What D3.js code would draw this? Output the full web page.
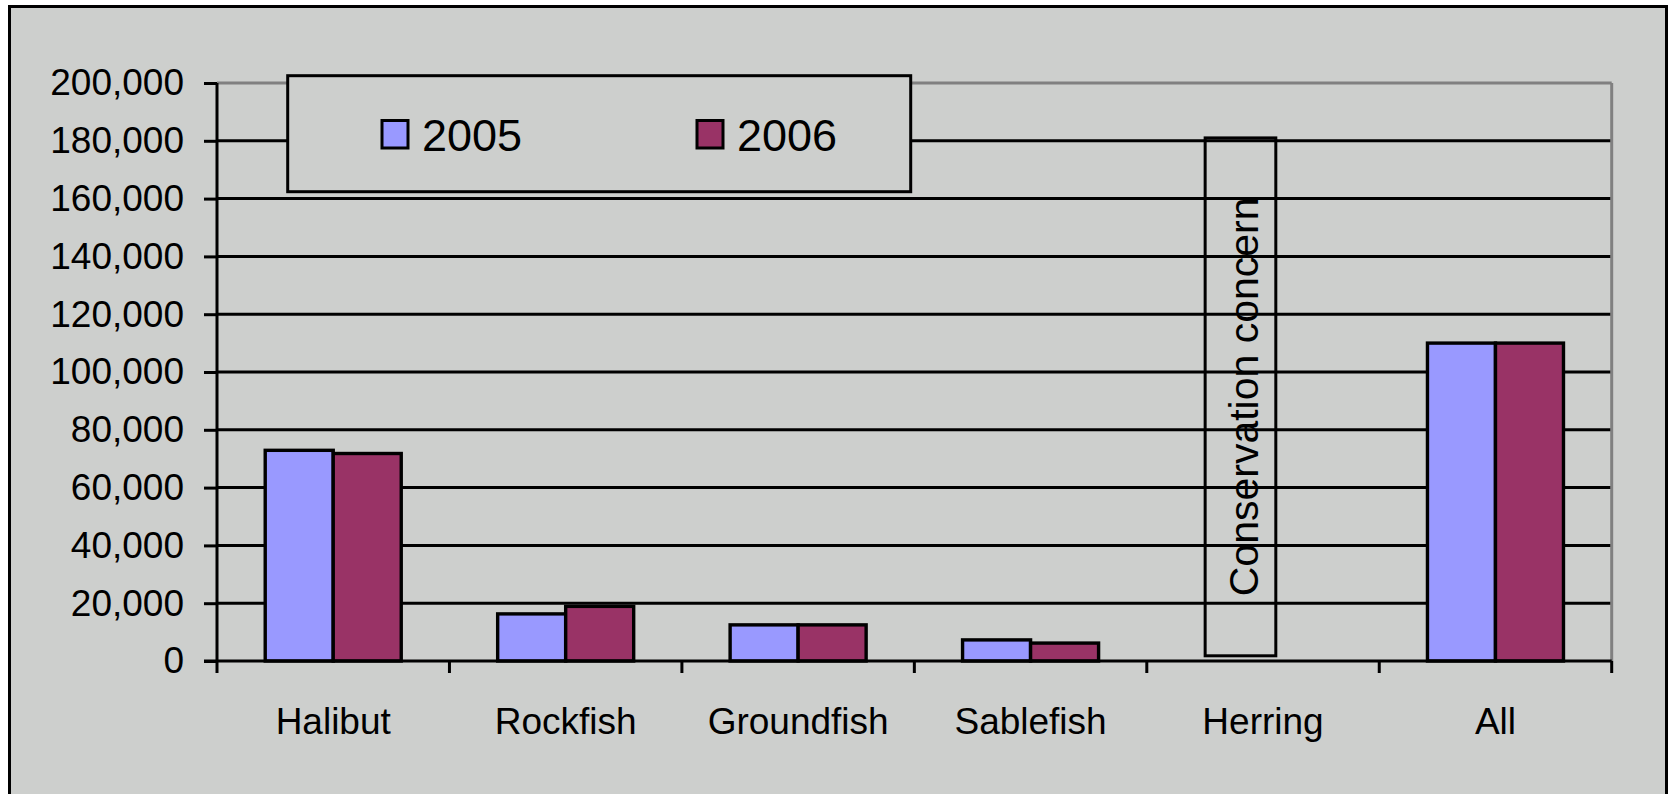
<!DOCTYPE html>
<html>
<head>
<meta charset="utf-8">
<script src="https://cdn.jsdelivr.net/npm/d3@7"></script>
<style>
  html, body { margin: 0; padding: 0; background: #ffffff; }
  svg { display: block; }
  text { font-family: "Liberation Sans", Arial, sans-serif; fill: #000; }
</style>
</head>
<body>
<svg id="chart" width="1669" height="794"></svg>
<script>
// ---- data ----
const categories = ["Halibut", "Rockfish", "Groundfish", "Sablefish", "Herring", "All"];
const seriesNames = ["2005", "2006"];
const values2005 = [72900, 16300, 12500, 7300, 0, 110000];
const values2006 = [71800, 18900, 12500, 6200, 0, 110000];
const yTicks = [0, 20000, 40000, 60000, 80000, 100000, 120000, 140000, 160000, 180000, 200000];
const annotationText = "Conservation concern";
const annotationCategory = "Herring";
const annotationRange = [1800, 181000];

// ---- styles ----
const colors = { "2005": "#9999ff", "2006": "#993366" };
const bg = "#cdcfcd";

const svg = d3.select("#chart");
const plot = { left: 217, right: 1611.7, top: 83, bottom: 661 };

// outer chart area
svg.append("rect")
  .attr("x", 9.5).attr("y", 6.5)
  .attr("width", 1657).attr("height", 820)
  .attr("fill", bg).attr("stroke", "#000").attr("stroke-width", 3);

// scales
const x0 = d3.scaleBand().domain(categories).range([plot.left, plot.right]).padding(0);
const x1 = d3.scaleBand().domain(seriesNames).range([0, x0.bandwidth()])
  .paddingInner(0).paddingOuter(0.709);
const y = d3.scaleLinear().domain([0, 200000]).range([plot.bottom, plot.top]);

// gridlines
svg.append("g").selectAll("line")
  .data(yTicks.filter(t => t > 0 && t < 200000))
  .join("line")
  .attr("x1", plot.left).attr("x2", plot.right)
  .attr("y1", d => y(d)).attr("y2", d => y(d))
  .attr("stroke", "#000").attr("stroke-width", 3);

// plot area border (gray top & right)
svg.append("line")
  .attr("x1", plot.left).attr("x2", plot.right)
  .attr("y1", y(200000)).attr("y2", y(200000))
  .attr("stroke", "#808080").attr("stroke-width", 3);
svg.append("line")
  .attr("x1", plot.right).attr("x2", plot.right)
  .attr("y1", y(200000)).attr("y2", y(0))
  .attr("stroke", "#808080").attr("stroke-width", 3);

// bars
const rows = categories.map((c, i) => ({ cat: c, vals: [
  { s: "2005", v: values2005[i] },
  { s: "2006", v: values2006[i] }
]}));
const groups = svg.append("g").selectAll("g")
  .data(rows).join("g")
  .attr("transform", d => `translate(${x0(d.cat)},0)`);
groups.selectAll("rect")
  .data(d => d.vals.filter(v => v.v > 0))
  .join("rect")
  .attr("x", d => x1(d.s))
  .attr("y", d => y(d.v))
  .attr("width", x1.bandwidth())
  .attr("height", d => y(0) - y(d.v))
  .attr("fill", d => colors[d.s])
  .attr("stroke", "#000").attr("stroke-width", 3.4);

// annotation box for Herring
const bx = x0(annotationCategory);
const bw = x0.bandwidth();
const boxL = bx + bw * 0.251, boxR = bx + bw * 0.555;
svg.append("rect")
  .attr("x", boxL).attr("y", y(annotationRange[1]))
  .attr("width", boxR - boxL)
  .attr("height", y(annotationRange[0]) - y(annotationRange[1]))
  .attr("fill", "none").attr("stroke", "#000").attr("stroke-width", 3);
const cy = (y(annotationRange[0]) + y(annotationRange[1])) / 2;
svg.append("text")
  .attr("transform", `translate(${boxL + 53},${cy}) rotate(-90)`)
  .attr("text-anchor", "middle")
  .attr("font-size", 41)
  .text(annotationText);

// y axis
const yAxis = d3.axisLeft(y).tickValues(yTicks).tickFormat(d3.format(",")).tickSize(13).tickPadding(20);
const gy = svg.append("g").attr("transform", `translate(${plot.left},0)`).call(yAxis);
gy.select(".domain").attr("stroke", "#000").attr("stroke-width", 3)
  .attr("d", `M0,${plot.top}V${plot.bottom}`);
gy.selectAll(".tick line").attr("stroke", "#000").attr("stroke-width", 3);
gy.selectAll(".tick text").attr("font-size", 37).attr("font-family", "Liberation Sans, Arial, sans-serif").attr("fill", "#000");

// x axis
const boundaries = categories.map(c => x0(c)).concat([plot.right]);
svg.append("line")
  .attr("x1", plot.left - 13).attr("x2", plot.right)
  .attr("y1", plot.bottom).attr("y2", plot.bottom)
  .attr("stroke", "#000").attr("stroke-width", 3.2);
svg.append("g").selectAll("line")
  .data(boundaries).join("line")
  .attr("x1", d => d).attr("x2", d => d)
  .attr("y1", plot.bottom).attr("y2", plot.bottom + 12)
  .attr("stroke", "#000").attr("stroke-width", 3);
svg.append("g").selectAll("text")
  .data(categories).join("text")
  .attr("x", d => x0(d) + x0.bandwidth() / 2)
  .attr("y", plot.bottom + 73)
  .attr("text-anchor", "middle")
  .attr("font-size", 37)
  .text(d => d);

// legend
const lg = svg.append("g");
lg.append("rect")
  .attr("x", 287.7).attr("y", 75.7).attr("width", 623).attr("height", 116)
  .attr("fill", bg).attr("stroke", "#000").attr("stroke-width", 3);
const legendItems = [{ s: "2005", sx: 382 }, { s: "2006", sx: 697 }];
legendItems.forEach(it => {
  lg.append("rect")
    .attr("x", it.sx).attr("y", 120.5).attr("width", 26).attr("height", 27.5)
    .attr("fill", colors[it.s]).attr("stroke", "#000").attr("stroke-width", 3);
  lg.append("text")
    .attr("x", it.sx + 40).attr("y", 151)
    .attr("font-size", 45)
    .text(it.s);
});
</script>
</body>
</html>
